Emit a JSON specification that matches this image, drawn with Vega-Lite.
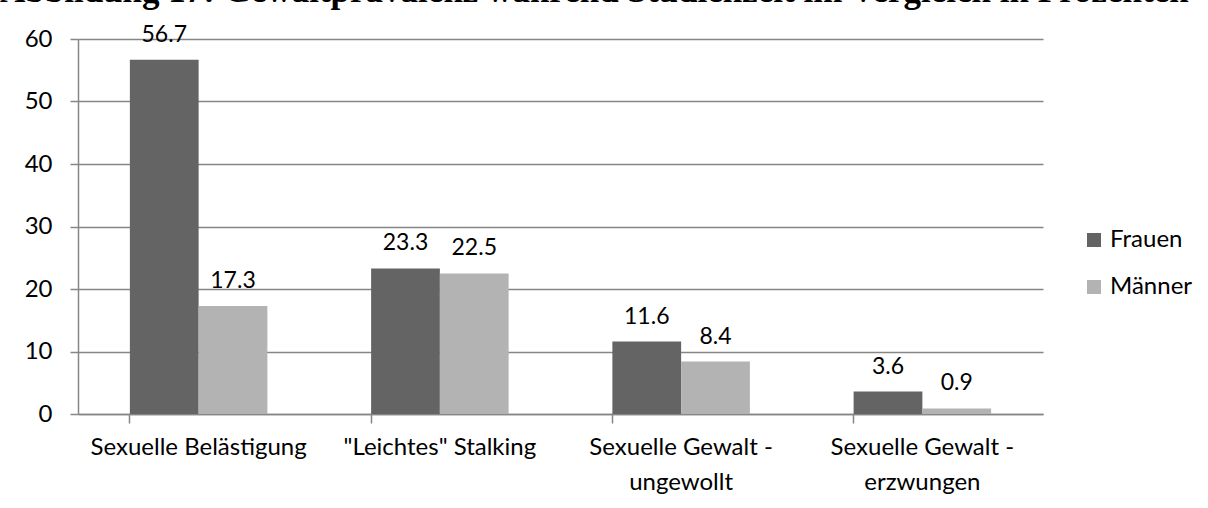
{
  "$schema": "https://vega.github.io/schema/vega-lite/v6.json",
  "width": 965,
  "height": 375,
  "autosize": {"type": "none"},
  "padding": {"left": 78, "top": 39, "right": 165, "bottom": 94},
  "background": "white",
  "title": {
    "text": "Abbildung 17: Gewaltprävalenz während Studienzeit im Vergleich in Prozenten",
    "font": "Liberation Serif",
    "fontSize": 35,
    "fontWeight": "bold",
    "color": "black",
    "anchor": "start",
    "frame": "group",
    "baseline": "alphabetic",
    "dx": -78,
    "dy": 17
  },
  "data": {
    "values": [
      {"kategorie": "Sexuelle Belästigung", "gruppe": "Frauen", "wert": 56.7},
      {"kategorie": "Sexuelle Belästigung", "gruppe": "Männer", "wert": 17.3},
      {"kategorie": "\"Leichtes\" Stalking", "gruppe": "Frauen", "wert": 23.3},
      {"kategorie": "\"Leichtes\" Stalking", "gruppe": "Männer", "wert": 22.5},
      {"kategorie": "Sexuelle Gewalt - ungewollt", "gruppe": "Frauen", "wert": 11.6},
      {"kategorie": "Sexuelle Gewalt - ungewollt", "gruppe": "Männer", "wert": 8.4},
      {"kategorie": "Sexuelle Gewalt - erzwungen", "gruppe": "Frauen", "wert": 3.6},
      {"kategorie": "Sexuelle Gewalt - erzwungen", "gruppe": "Männer", "wert": 0.9}
    ]
  },
  "encoding": {
    "x": {
      "field": "kategorie",
      "type": "nominal",
      "sort": null,
      "scale": {"paddingInner": 0.43, "paddingOuter": 0.215},
      "axis": {
        "title": null,
        "labelAngle": 0,
        "bandPosition": 0,
        "labelFont": "Lato",
        "labelFontSize": 24,
        "labelColor": "black",
        "labelLineHeight": 35,
        "labelPadding": 12,
        "labelLimit": 0,
        "tickSize": 9,
        "tickColor": "#868686",
        "domainColor": "#868686",
        "domainWidth": 1.5,
        "tickWidth": 1.5,
        "labelExpr": "indexof(datum.value, ' - ') > 0 ? [slice(datum.value, 0, indexof(datum.value, ' - ') + 2), slice(datum.value, indexof(datum.value, ' - ') + 3)] : datum.value"
      }
    },
    "xOffset": {"field": "gruppe", "type": "nominal", "scale": {"paddingInner": 0, "paddingOuter": 0}},
    "y": {
      "field": "wert",
      "type": "quantitative",
      "scale": {"domain": [0, 60], "nice": false},
      "axis": {
        "title": null,
        "values": [0, 10, 20, 30, 40, 50, 60],
        "labelFont": "Lato",
        "labelFontSize": 24,
        "labelColor": "black",
        "labelPadding": 18,
        "tickSize": 8,
        "tickColor": "#868686",
        "tickWidth": 1.5,
        "domainColor": "#868686",
        "domainWidth": 1.5,
        "gridColor": "#868686",
        "gridWidth": 1.5
      }
    }
  },
  "layer": [
    {
      "mark": {"type": "bar"},
      "encoding": {
        "color": {
          "field": "gruppe",
          "type": "nominal",
          "scale": {"domain": ["Frauen", "Männer"], "range": ["#646464", "#b3b3b3"]},
          "legend": {
            "title": null,
            "orient": "none",
            "legendX": 1004,
            "legendY": 189,
            "symbolType": "square",
            "symbolSize": 196,
            "symbolStrokeWidth": 0,
            "labelFont": "Lato",
            "labelFontSize": 24,
            "labelColor": "black",
            "labelOffset": 4,
            "rowPadding": 23
          }
        }
      }
    },
    {
      "mark": {"type": "text", "baseline": "alphabetic", "dy": -18, "font": "Lato", "fontSize": 23, "color": "black"},
      "encoding": {
        "text": {"field": "wert", "type": "quantitative", "format": ".1f"}
      }
    }
  ],
  "config": {"view": {"stroke": null}}
}
